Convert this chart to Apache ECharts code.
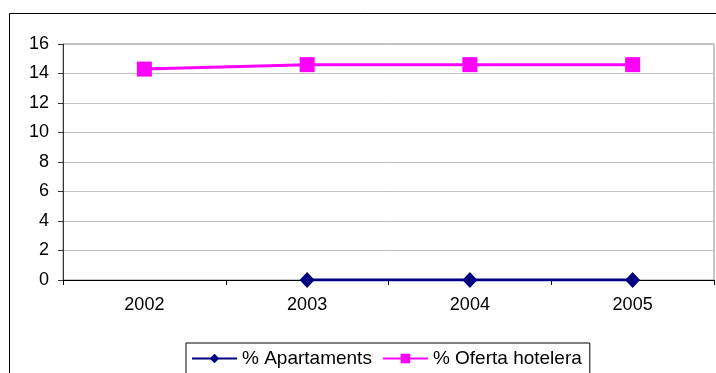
<!DOCTYPE html>
<html>
<head>
<meta charset="utf-8">
<script src="https://cdn.jsdelivr.net/npm/echarts@6/dist/echarts.min.js"></script>
<style>
  html, body { margin: 0; padding: 0; background: #ffffff; }
  #chart { width: 716px; height: 373px; }
</style>
</head>
<body>
<div id="chart"></div>
<script>
// Years on the category axis
const years = ['2002', '2003', '2004', '2005'];
// Share of apartments (no value for 2002)
const apartaments = [null, 0, 0, 0];
// Share of hotel offer
const ofertaHotelera = [14.3, 14.6, 14.6, 14.6];
// Value axis range
const yMin = 0, yMax = 16, yStep = 2;

const font = 'Arial, "Liberation Sans", sans-serif';
const chart = echarts.init(document.getElementById('chart'), null, { renderer: 'canvas' });

chart.setOption({
  animation: false,
  backgroundColor: '#ffffff',
  graphic: [{
    type: 'rect',
    shape: { x: 9.5, y: 13.5, width: 800, height: 500 },
    style: { fill: 'none', stroke: '#000000', lineWidth: 1 },
    silent: true,
    z: -10
  }],
  grid: {
    left: 63, top: 44, right: 2, bottom: 93,
    show: true,
    borderColor: '#8c8c8c',
    borderWidth: 1,
    backgroundColor: 'transparent'
  },
  legend: {
    left: 186, top: 343,
    itemWidth: 45, itemHeight: 12,
    itemGap: 10,
    padding: [6, 8, 7, 5],
    borderColor: '#000000',
    borderWidth: 1,
    textStyle: { fontFamily: font, fontSize: 19, color: '#000000' },
    data: ['% Apartaments', '% Oferta hotelera']
  },
  xAxis: {
    type: 'category',
    data: years,
    boundaryGap: true,
    axisLine: { lineStyle: { color: '#000000', width: 1 } },
    axisTick: { show: true, length: 5, inside: false, alignWithLabel: false, lineStyle: { color: '#000000' } },
    axisLabel: { fontFamily: font, fontSize: 18, color: '#000000', margin: 16 },
    splitLine: { show: false }
  },
  yAxis: {
    type: 'value',
    min: yMin, max: yMax, interval: yStep,
    axisLine: { show: true, lineStyle: { color: '#333333', width: 1 } },
    axisTick: { show: true, length: 5, inside: false, lineStyle: { color: '#333333' } },
    axisLabel: { fontFamily: font, fontSize: 18, color: '#000000', margin: 14 },
    splitLine: { show: true, lineStyle: { color: '#c0c0c0', width: 1 } }
  },
  series: [
    {
      name: '% Apartaments',
      type: 'line',
      data: apartaments,
      color: '#000080',
      symbol: 'diamond',
      symbolSize: [15, 16],
      showAllSymbol: true,
      lineStyle: { color: '#000080', width: 3 },
      itemStyle: { color: '#000080' },
      z: 3
    },
    {
      name: '% Oferta hotelera',
      type: 'line',
      data: ofertaHotelera,
      color: '#ff00ff',
      symbol: 'rect',
      symbolSize: 15,
      showAllSymbol: true,
      lineStyle: { color: '#ff00ff', width: 3 },
      itemStyle: { color: '#ff00ff' },
      z: 4
    }
  ]
});
</script>
</body>
</html>
